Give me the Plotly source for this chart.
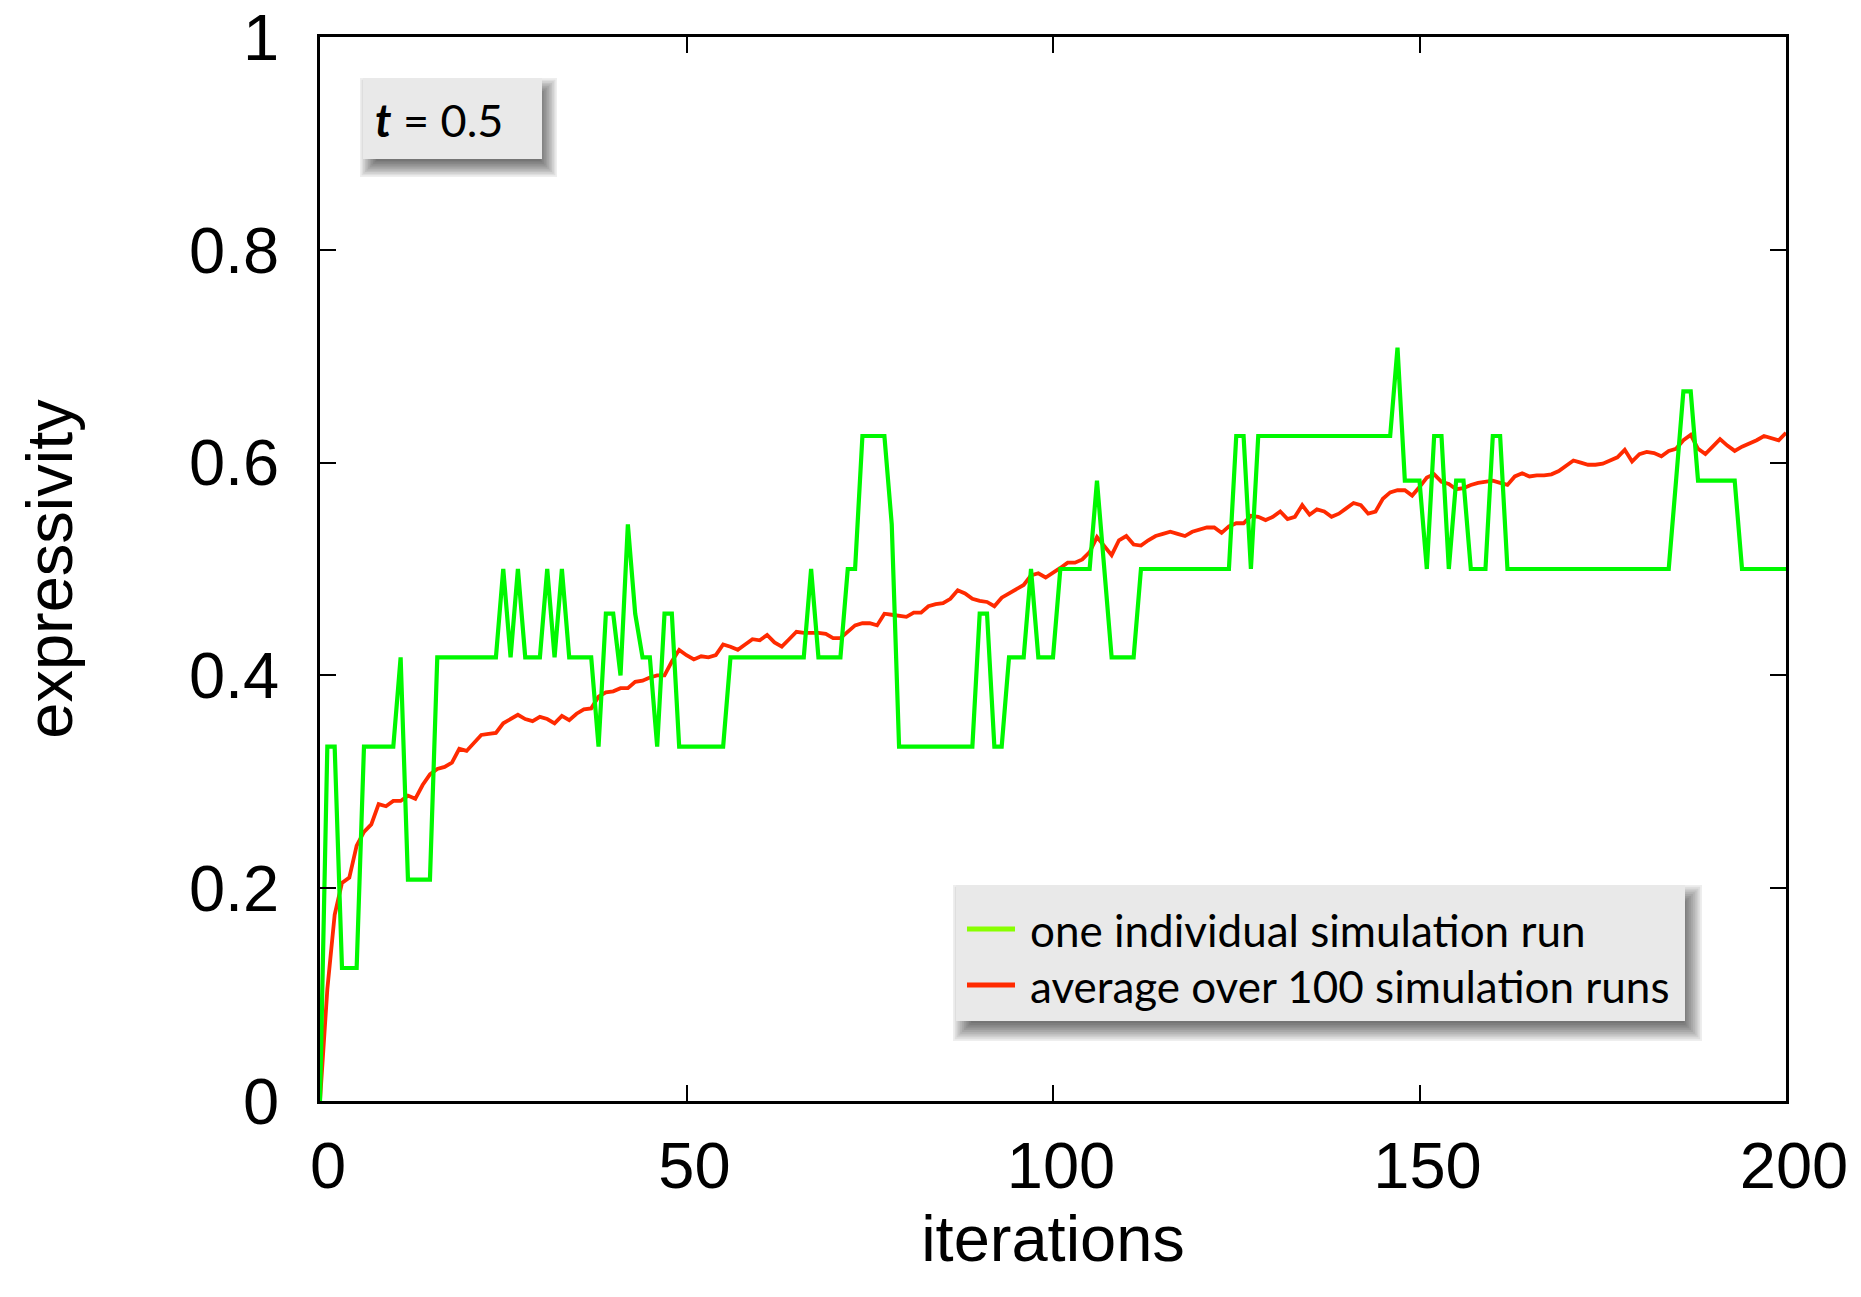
import plotly.graph_objects as go

# ---- data -------------------------------------------------------------
iterations = list(range(201))

# expressivity of one individual simulation run (multiples of 1/24)
single_run = [
    0.000, 0.333, 0.333, 0.125, 0.125, 0.125, 0.333, 0.333, 0.333, 0.333,
    0.333, 0.417, 0.208, 0.208, 0.208, 0.208, 0.417, 0.417, 0.417, 0.417,
    0.417, 0.417, 0.417, 0.417, 0.417, 0.500, 0.417, 0.500, 0.417, 0.417,
    0.417, 0.500, 0.417, 0.500, 0.417, 0.417, 0.417, 0.417, 0.333, 0.458,
    0.458, 0.400, 0.542, 0.458, 0.417, 0.417, 0.333, 0.458, 0.458, 0.333,
    0.333, 0.333, 0.333, 0.333, 0.333, 0.333, 0.417, 0.417, 0.417, 0.417,
    0.417, 0.417, 0.417, 0.417, 0.417, 0.417, 0.417, 0.500, 0.417, 0.417,
    0.417, 0.417, 0.500, 0.500, 0.625, 0.625, 0.625, 0.625, 0.542, 0.333,
    0.333, 0.333, 0.333, 0.333, 0.333, 0.333, 0.333, 0.333, 0.333, 0.333,
    0.458, 0.458, 0.333, 0.333, 0.417, 0.417, 0.417, 0.500, 0.417, 0.417,
    0.417, 0.500, 0.500, 0.500, 0.500, 0.500, 0.583, 0.500, 0.417, 0.417,
    0.417, 0.417, 0.500, 0.500, 0.500, 0.500, 0.500, 0.500, 0.500, 0.500,
    0.500, 0.500, 0.500, 0.500, 0.500, 0.625, 0.625, 0.500, 0.625, 0.625,
    0.625, 0.625, 0.625, 0.625, 0.625, 0.625, 0.625, 0.625, 0.625, 0.625,
    0.625, 0.625, 0.625, 0.625, 0.625, 0.625, 0.625, 0.708, 0.583, 0.583,
    0.583, 0.500, 0.625, 0.625, 0.500, 0.583, 0.583, 0.500, 0.500, 0.500,
    0.625, 0.625, 0.500, 0.500, 0.500, 0.500, 0.500, 0.500, 0.500, 0.500,
    0.500, 0.500, 0.500, 0.500, 0.500, 0.500, 0.500, 0.500, 0.500, 0.500,
    0.500, 0.500, 0.500, 0.500, 0.500, 0.583, 0.667, 0.667, 0.583, 0.583,
    0.583, 0.583, 0.583, 0.583, 0.500, 0.500, 0.500, 0.500, 0.500, 0.500,
    0.500,
]

# expressivity averaged over 100 simulation runs
average_run = [
    0.000, 0.105, 0.175, 0.205, 0.210, 0.240, 0.253, 0.260, 0.279, 0.277,
    0.282, 0.282, 0.287, 0.284, 0.297, 0.307, 0.312, 0.314, 0.318, 0.331,
    0.329, 0.336, 0.344, 0.345, 0.346, 0.355, 0.359, 0.363, 0.359, 0.357,
    0.361, 0.359, 0.355, 0.362, 0.358, 0.364, 0.368, 0.369, 0.380, 0.384,
    0.385, 0.388, 0.388, 0.394, 0.395, 0.398, 0.400, 0.400, 0.413, 0.424,
    0.419, 0.415, 0.418, 0.417, 0.419, 0.429, 0.427, 0.424, 0.429, 0.434,
    0.433, 0.438, 0.431, 0.427, 0.434, 0.441, 0.440, 0.440, 0.440, 0.439,
    0.435, 0.435, 0.441, 0.447, 0.449, 0.449, 0.447, 0.458, 0.457, 0.456,
    0.455, 0.459, 0.459, 0.465, 0.467, 0.468, 0.472, 0.480, 0.477, 0.472,
    0.470, 0.469, 0.465, 0.473, 0.477, 0.482, 0.485, 0.494, 0.496, 0.492,
    0.496, 0.501, 0.506, 0.506, 0.509, 0.516, 0.530, 0.522, 0.513, 0.527,
    0.531, 0.523, 0.522, 0.527, 0.531, 0.533, 0.535, 0.533, 0.531, 0.535,
    0.537, 0.539, 0.539, 0.534, 0.540, 0.543, 0.543, 0.550, 0.549, 0.546,
    0.549, 0.554, 0.547, 0.549, 0.560, 0.551, 0.556, 0.554, 0.549, 0.552,
    0.557, 0.562, 0.560, 0.552, 0.554, 0.566, 0.572, 0.574, 0.574, 0.569,
    0.577, 0.586, 0.589, 0.582, 0.580, 0.575, 0.576, 0.579, 0.581, 0.582,
    0.583, 0.581, 0.579, 0.587, 0.590, 0.587, 0.588, 0.588, 0.589, 0.592,
    0.597, 0.602, 0.600, 0.598, 0.598, 0.599, 0.602, 0.605, 0.612, 0.601,
    0.608, 0.610, 0.609, 0.606, 0.611, 0.613, 0.621, 0.626, 0.613, 0.608,
    0.615, 0.622, 0.616, 0.611, 0.615, 0.618, 0.621, 0.625, 0.623, 0.621,
    0.628,
]

x_ticks = [0, 50, 100, 150, 200]
y_ticks = [0, 0.2, 0.4, 0.6, 0.8, 1.0]
y_tick_text = ["0", "0.2", "0.4", "0.6", "0.8", "1"]

legend_labels = ["one individual simulation run", "average over 100 simulation runs"]
legend_colors = ["#88ff00", "#ff2a00"]
line_colors = ["#00f800", "#ff2a00"]
param_label = "<b><i>t</i></b> = 0.5"

# ---- geometry ---------------------------------------------------------
W, H = 1861, 1297
ML, MR, MT, MB = 320, 75, 37, 196
PW, PH = W - ML - MR, H - MT - MB

AXIS_FONT = "Liberation Sans, Arial, Helvetica, sans-serif"
BOX_FONT = "Lato, 'Open Sans', sans-serif"


def to_paper_x(px):
    return (px - ML) / PW


def to_paper_y(py):
    return (H - MB - py) / PH


def rect(x0, y0, x1, y1, fill, line_width=0):
    return dict(type="rect", xref="paper", yref="paper", layer="above",
                x0=to_paper_x(x0), x1=to_paper_x(x1),
                y0=to_paper_y(y1), y1=to_paper_y(y0),
                fillcolor=fill, line=dict(width=line_width))


def shadowed_box(x0, y0, x1, y1, dx, dy, blur, n=12, alpha=0.065):
    """Grey panel with a soft drop shadow built from stacked translucent rects."""
    out = []
    for k in range(n):
        e = blur * (2.0 * k / (n - 1) - 1.0)
        out.append(rect(x0 + dx - e, y0 + dy - e, x1 + dx + e, y1 + dy + e,
                        f"rgba(0,0,0,{alpha})"))
    out.append(rect(x0, y0, x1, y1, "#e9e9e9"))
    return out


# ---- traces -----------------------------------------------------------
fig = go.Figure()
fig.add_trace(go.Scatter(x=iterations, y=average_run, mode="lines",
                         name=legend_labels[1], showlegend=False,
                         line=dict(color=line_colors[1], width=3.8)))
fig.add_trace(go.Scatter(x=iterations, y=single_run, mode="lines",
                         name=legend_labels[0], showlegend=False,
                         line=dict(color=line_colors[0], width=4.2)))

# ---- boxes: parameter label and legend --------------------------------
shapes = []
shapes += shadowed_box(363, 78, 542, 159, dx=6, dy=9, blur=9)
shapes += shadowed_box(956, 885, 1685, 1021, dx=7, dy=10, blur=10)

legend_rows_y = [929, 985]
annotations = []
for label, color, yrow in zip(legend_labels, legend_colors, legend_rows_y):
    shapes.append(dict(type="line", xref="paper", yref="paper", layer="above",
                       x0=to_paper_x(967), x1=to_paper_x(1015),
                       y0=to_paper_y(yrow), y1=to_paper_y(yrow),
                       line=dict(color=color, width=5)))
    annotations.append(dict(xref="paper", yref="paper", showarrow=False,
                            x=to_paper_x(1028), y=to_paper_y(yrow + 1),
                            xanchor="left", yanchor="middle", text=label,
                            font=dict(family=BOX_FONT, size=44, color="black")))

annotations.append(dict(xref="paper", yref="paper", showarrow=False,
                        x=to_paper_x(373), y=to_paper_y(120),
                        xanchor="left", yanchor="middle", text=param_label,
                        font=dict(family=BOX_FONT, size=45, color="black")))

# ---- axes -------------------------------------------------------------
axis_common = dict(
    showline=True, linecolor="black", linewidth=2.5, mirror="ticks",
    ticks="inside", ticklen=16, tickwidth=2, tickcolor="black",
    showgrid=False, zeroline=False,
    tickfont=dict(family=AXIS_FONT, size=65, color="black"),
)

fig.update_xaxes(range=[0, 200], tickvals=x_ticks, ticklabelstandoff=6,
                 ticklabelshift=8,
                 title=dict(text="iterations", standoff=15,
                            font=dict(family=AXIS_FONT, size=65, color="black")),
                 **axis_common)
fig.update_yaxes(range=[0, 1], tickvals=y_ticks, ticktext=y_tick_text,
                 ticklabelstandoff=25,
                 title=dict(text="expressivity", standoff=96,
                            font=dict(family=AXIS_FONT, size=65, color="black")),
                 **axis_common)

fig.update_layout(
    width=W, height=H, autosize=False,
    margin=dict(l=ML, r=MR, t=MT, b=MB, autoexpand=False),
    paper_bgcolor="white", plot_bgcolor="white",
    showlegend=False,
    shapes=shapes, annotations=annotations,
)

fig.write_html("out.html")
